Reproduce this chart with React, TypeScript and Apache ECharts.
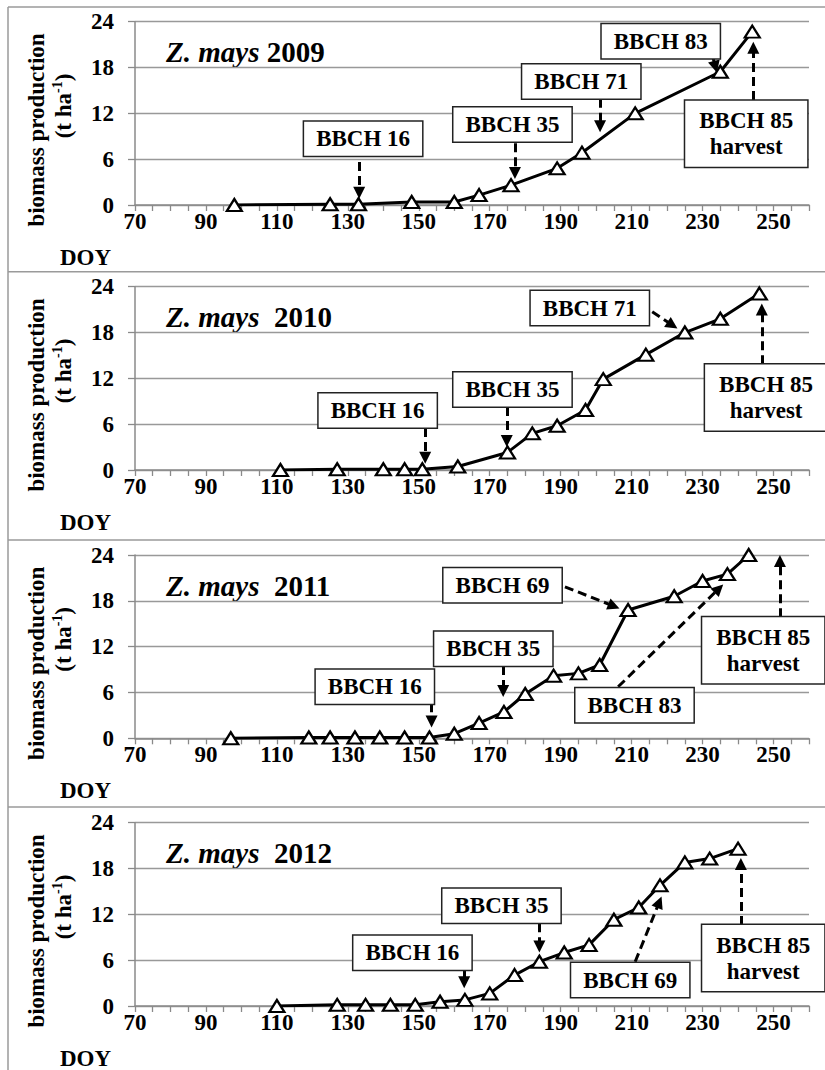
import React, { useEffect, useRef } from "react";
import * as echarts from "echarts";

// ---------------- data ----------------
const years = ["2009", "2010", "2011", "2012"];

const doy2009 = [98, 125, 133, 148, 160, 167, 176, 189, 196, 211, 235, 244];
const bio2009 = [0, 0.1, 0.1, 0.4, 0.4, 1.3, 2.6, 4.8, 6.85, 12.0, 17.45, 22.7];

const doy2010 = [111, 127, 140, 146, 151, 161, 175, 182, 189, 197, 202, 214, 225, 235, 246];
const bio2010 = [0, 0.1, 0.1, 0.1, 0.1, 0.45, 2.3, 4.8, 5.8, 7.85, 11.9, 15.1, 18.0, 19.8, 23.1];

const doy2011 = [97, 119, 125, 132, 139, 146, 153, 160, 167, 174, 180, 188, 195, 201, 209, 222, 230, 237, 243];
const bio2011 = [0, 0.1, 0.1, 0.1, 0.1, 0.1, 0.1, 0.6, 2.0, 3.45, 5.8, 8.2, 8.5, 9.6, 16.8, 18.6, 20.6, 21.5, 24.0];

const doy2012 = [110, 127, 135, 142, 149, 156, 163, 170, 177, 184, 191, 198, 205, 212, 218, 225, 232, 240];
const bio2012 = [0, 0.15, 0.15, 0.15, 0.15, 0.55, 0.8, 1.65, 4.05, 5.8, 7.0, 8.0, 11.3, 12.9, 15.8, 18.8, 19.3, 20.6];

const xTickLabels = [70, 90, 110, 130, 150, 170, 190, 210, 230, 250];

// annotation boxes: [text, DOY, biomass] (centre of the box, data space)
const labels2009: [string, number, number][] = [
  ["BBCH 16", 134.3, 8.68],
  ["BBCH 35", 176.4, 10.54],
  ["BBCH 71", 195.8, 16.16],
  ["BBCH 83", 218.2, 21.44],
  ["BBCH 85\nharvest", 242.3, 9.32],
];
const labels2010: [string, number, number][] = [
  ["BBCH 16", 138.4, 7.79],
  ["BBCH 35", 176.4, 10.54],
  ["BBCH 71", 198.2, 21.2],
  ["BBCH 85\nharvest", 247.9, 9.49],
];
const labels2011: [string, number, number][] = [
  ["BBCH 16", 137.6, 6.76],
  ["BBCH 35", 171.0, 11.71],
  ["BBCH 69", 173.6, 20.03],
  ["BBCH 83", 210.8, 4.33],
  ["BBCH 85\nharvest", 247.1, 11.52],
];
const labels2012: [string, number, number][] = [
  ["BBCH 16", 148.2, 6.98],
  ["BBCH 35", 173.3, 13.11],
  ["BBCH 69", 209.6, 3.4],
  ["BBCH 85\nharvest", 247.1, 6.28],
];

// annotation arrows: [fromDOY, fromBiomass, toDOY, toBiomass]
const arrows2009 = [
  [133.2, 5.63, 133.2, 1.6],
  [177.1, 8.1, 177.1, 4.2],
  [201.1, 13.9, 201.1, 10.3],
  [233.0, 19.2, 233.6, 18.1],
  [244.3, 13.74, 244.3, 20.6],
];
const arrows2010 = [
  [151.8, 5.5, 151.8, 1.6],
  [174.8, 8.25, 174.8, 3.8],
  [215.8, 20.71, 221.5, 18.95],
  [246.7, 13.84, 246.7, 21.0],
];
const arrows2011 = [
  [153.6, 4.58, 153.6, 2.2],
  [173.8, 9.46, 173.8, 6.2],
  [191.2, 19.84, 205.0, 17.3],
  [206.2, 6.75, 234.6, 19.6],
  [251.8, 15.84, 251.8, 23.2],
];
const arrows2012 = [
  [162.8, 4.71, 162.8, 3.1],
  [184.0, 10.82, 184.0, 7.8],
  [211.0, 5.8, 217.8, 13.6],
  [240.8, 10.6, 240.8, 18.6],
];

// ---------------- layout / style ----------------
const FONT = "Liberation Serif";
const PANEL_TOPS = [7, 271.7, 540, 807];
const PLOT_TOPS = [21.7, 286.7, 555, 822.7];
const PLOT_H = 183.3;
const GRID_LEFT = 135;
const GRID_RIGHT = 16;
const BORDER = "#9a9a9a";
const AXIS = "#8a8a8a";

const panels = [
  { year: years[0], doy: doy2009, bio: bio2009, labels: labels2009, arrows: arrows2009, gap: " " },
  { year: years[1], doy: doy2010, bio: bio2010, labels: labels2010, arrows: arrows2010, gap: "  " },
  { year: years[2], doy: doy2011, bio: bio2011, labels: labels2011, arrows: arrows2011, gap: "  " },
  { year: years[3], doy: doy2012, bio: bio2012, labels: labels2012, arrows: arrows2012, gap: "  " },
];

function buildOption() {
  const graphic: any[] = [];
  graphic.push({
    type: "line",
    shape: { x1: 8, y1: PANEL_TOPS[0], x2: 8, y2: 1070 },
    style: { stroke: BORDER, lineWidth: 1.5 },
    silent: true,
  });
  PANEL_TOPS.forEach((t) => {
    graphic.push({
      type: "line",
      shape: { x1: 8, y1: t, x2: 825, y2: t },
      style: { stroke: BORDER, lineWidth: 1.5 },
      silent: true,
    });
  });
  panels.forEach((p, i) => {
    const top = PLOT_TOPS[i];
    const bottom = top + PLOT_H;
    graphic.push({
      type: "text",
      x: 166,
      y: top + 30.5,
      silent: true,
      style: {
        text: "{i|Z. mays}{n|" + p.gap + p.year + "}",
        fontSize: 29,
        fontWeight: "bold",
        fontFamily: FONT,
        fill: "#000",
        align: "left",
        verticalAlign: "middle",
        rich: {
          i: { fontSize: 29, fontWeight: "bold", fontStyle: "italic", fontFamily: FONT, fill: "#000" },
          n: { fontSize: 29, fontWeight: "bold", fontFamily: FONT, fill: "#000" },
        },
      },
    });
    graphic.push({
      type: "text",
      x: 36,
      y: top + 108.3,
      rotation: Math.PI / 2,
      silent: true,
      style: {
        text: "biomass production",
        fontSize: 23,
        fontWeight: "bold",
        fontFamily: FONT,
        fill: "#000",
        align: "center",
        verticalAlign: "middle",
      },
    });
    graphic.push({
      type: "text",
      x: 63,
      y: top + 84.3,
      rotation: Math.PI / 2,
      silent: true,
      style: {
        text: "{m|(t ha}{sup|-1}{m|)}",
        fontSize: 23,
        fontWeight: "bold",
        fontFamily: FONT,
        fill: "#000",
        align: "center",
        verticalAlign: "middle",
        rich: {
          m: { fontSize: 23, fontWeight: "bold", fontFamily: FONT, fill: "#000", lineHeight: 26 },
          sup: { fontSize: 14, fontWeight: "bold", fontFamily: FONT, fill: "#000", verticalAlign: "top", lineHeight: 26 },
        },
      },
    });
    graphic.push({
      type: "text",
      x: 60,
      y: bottom + 52,
      silent: true,
      style: {
        text: "DOY",
        fontSize: 23,
        fontWeight: "bold",
        fontFamily: FONT,
        fill: "#000",
        align: "left",
        verticalAlign: "middle",
      },
    });
  });

  return {
    animation: false,
    backgroundColor: "#ffffff",
    textStyle: { fontFamily: FONT },
    grid: panels.map((_, i) => ({
      left: GRID_LEFT,
      right: GRID_RIGHT,
      top: PLOT_TOPS[i],
      height: PLOT_H,
      containLabel: false,
    })),
    xAxis: panels.map((_, i) => ({
      type: "value",
      gridIndex: i,
      min: 70,
      max: 260,
      interval: 5,
      axisLine: { show: true, onZero: false, lineStyle: { color: AXIS, width: 1.5 } },
      axisTick: { show: true, length: 6, lineStyle: { color: AXIS, width: 1.3 } },
      splitLine: { show: false },
      axisLabel: {
        show: true,
        margin: 5,
        fontSize: 23,
        fontWeight: "bold",
        fontFamily: FONT,
        color: "#000",
        formatter: (v: number) => (xTickLabels.indexOf(v) >= 0 ? String(v) : ""),
      },
    })),
    yAxis: panels.map((_, i) => ({
      type: "value",
      gridIndex: i,
      min: 0,
      max: 24,
      interval: 6,
      axisLine: { show: true, lineStyle: { color: AXIS, width: 1.5 } },
      axisTick: { show: true, length: 7, lineStyle: { color: AXIS, width: 1.3 } },
      splitLine: { show: true, lineStyle: { color: "#999999", width: 1.4 } },
      axisLabel: {
        show: true,
        margin: 21,
        fontSize: 23,
        fontWeight: "bold",
        fontFamily: FONT,
        color: "#000",
      },
    })),
    series: panels.map((p, i) => ({
      type: "line",
      name: p.year,
      xAxisIndex: i,
      yAxisIndex: i,
      data: p.doy.map((d, j) => [d, p.bio[j]]),
      symbol: "triangle",
      symbolSize: [15, 12],
      showAllSymbol: true,
      itemStyle: { color: "#ffffff", borderColor: "#000000", borderWidth: 2.2 },
      lineStyle: { color: "#000000", width: 3 },
      z: 3,
      markLine: {
        silent: true,
        animation: false,
        symbol: ["none", "triangle"],
        symbolSize: 12,
        itemStyle: { color: "#000000" },
        lineStyle: { color: "#000000", width: 3, type: [9, 5] },
        label: { show: false },
        emphasis: { disabled: true },
        data: p.arrows.map((a) => [{ coord: [a[0], a[1]] }, { coord: [a[2], a[3]] }]),
      },
      markPoint: {
        silent: true,
        animation: false,
        symbol: "rect",
        symbolSize: 1,
        itemStyle: { color: "rgba(0,0,0,0)" },
        label: {
          show: true,
          position: "inside",
          formatter: "{b}",
          fontSize: 23,
          fontWeight: "bold",
          fontFamily: FONT,
          color: "#000",
          backgroundColor: "#ffffff",
          borderColor: "#222222",
          borderWidth: 1.5,
          lineHeight: 26,
          align: "center",
          padding: [5, 12, 3, 12],
        },
        data: p.labels.map((l) => ({
          name: l[0],
          coord: [l[1], l[2]],
          label: l[0].indexOf("\n") >= 0 ? { padding: [8, 14, 6, 14] } : {},
        })),
      },
    })),
    graphic,
  };
}

export default function App() {
  const ref = useRef<HTMLDivElement>(null);
  useEffect(() => {
    if (!ref.current) return;
    const chart = echarts.init(ref.current, null, { renderer: "svg" });
    chart.setOption(buildOption() as any);
    return () => {
      chart.dispose();
    };
  }, []);
  return (
    <div
      ref={ref}
      style={{ position: "absolute", left: 0, top: 0, width: 825, height: 1070, background: "#fff" }}
    />
  );
}
